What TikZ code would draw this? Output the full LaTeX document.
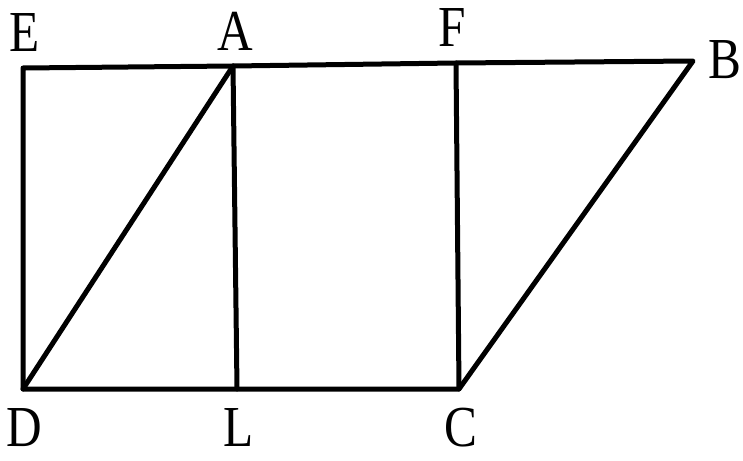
\documentclass[tikz,border=0pt]{standalone}
\usepackage{fontspec}
\setmainfont{Liberation Serif}
\begin{document}
\begin{tikzpicture}[x=1pt,y=-1pt,
  seg/.style={line width=5pt,line cap=round,line join=round},
  lbl/.style={font=\fontsize{58}{58}\selectfont,inner sep=0pt,xscale=0.85}]
\useasboundingbox (0,0) rectangle (743,460);
\coordinate (E) at (23,68);
\coordinate (A) at (233,66);
\coordinate (F) at (456,63);
\coordinate (B) at (693,61);
\coordinate (D) at (23,389);
\coordinate (L) at (237,389);
\coordinate (C) at (459,389);
\draw[seg] (E) -- (A) -- (F) -- (B) -- (C) -- (L) -- (D) -- cycle;
\draw[seg] (A) -- (L);
\draw[seg] (F) -- (C);
\draw[seg] (D) -- (A);
\node[lbl] (tE) at (25,33) {E};
\node[lbl] (tA) at (235,31) {A};
\node[lbl] (tF) at (452,28) {F};
\node[lbl] (tB) at (725,60) {B};
\node[lbl] (tD) at (24,428) {D};
\node[lbl] (tL) at (239,428) {L};
\node[lbl] (tC) at (461,428) {C};
\end{tikzpicture}
\end{document}
